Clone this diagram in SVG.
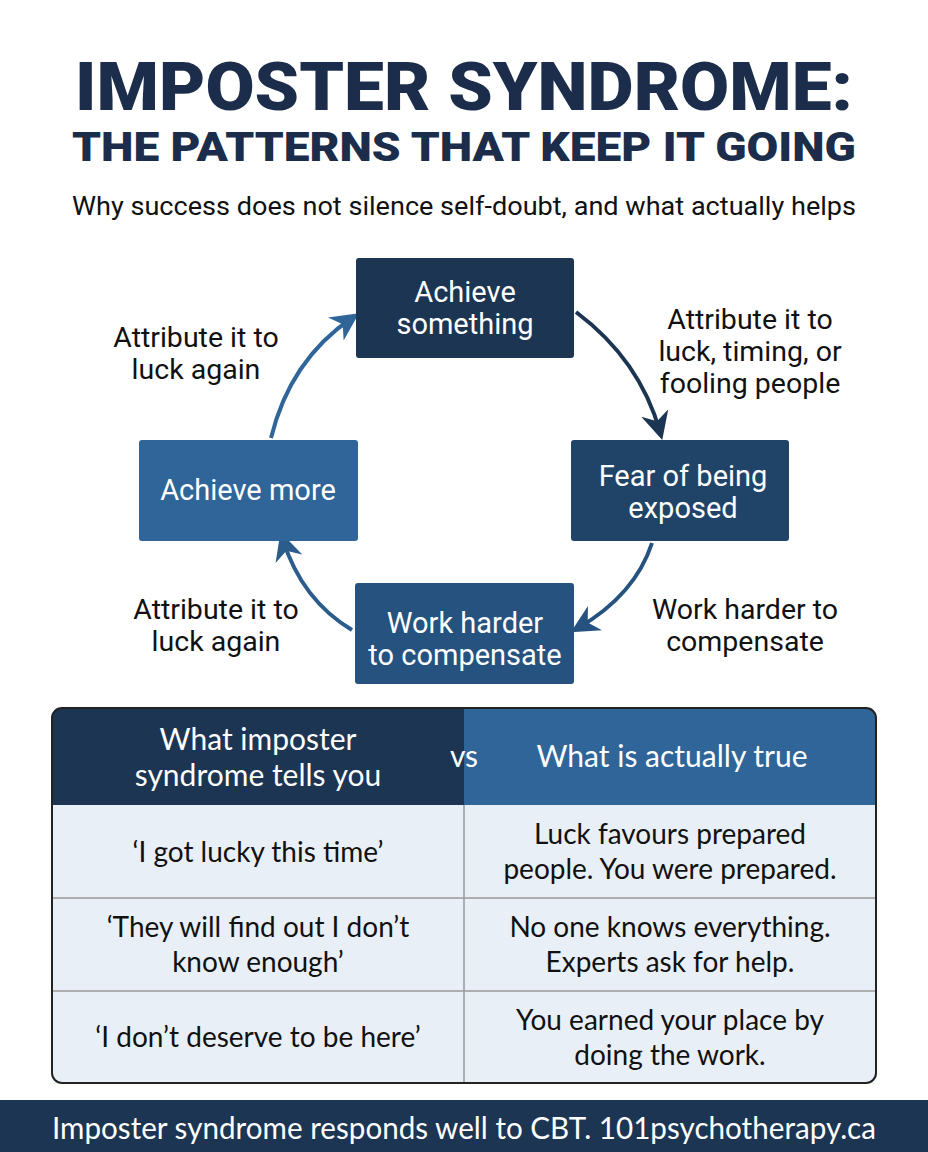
<svg xmlns="http://www.w3.org/2000/svg" width="928" height="1152" viewBox="0 0 928 1152">
<style>
.t{font-family:Roboto,"Liberation Sans",sans-serif;text-anchor:middle}
.n{fill:#fff;font-size:29px}
.l{fill:#111;font-size:28.5px}
.c{fill:#111;font-size:28px;font-family:Lato,"Liberation Sans",sans-serif;text-anchor:middle}
.h{fill:#fff;font-size:30px;font-family:Lato,"Liberation Sans",sans-serif;text-anchor:middle}
.a{fill:none;stroke-width:4}
</style>
<defs>
<marker id="m1" viewBox="0 0 10 10" refX="7" refY="5" markerWidth="7" markerHeight="7" orient="auto"><path d="M0,0L10,5L0,10L3,5z" fill="#1c3553"/></marker>
<marker id="m2" viewBox="0 0 10 10" refX="7" refY="5" markerWidth="7" markerHeight="7" orient="auto"><path d="M0,0L10,5L0,10L3,5z" fill="#26527f"/></marker>
<marker id="m3" viewBox="0 0 10 10" refX="7" refY="5" markerWidth="7" markerHeight="7" orient="auto"><path d="M0,0L10,5L0,10L3,5z" fill="#2a5c8c"/></marker>
<marker id="m4" viewBox="0 0 10 10" refX="7" refY="5" markerWidth="7" markerHeight="7" orient="auto"><path d="M0,0L10,5L0,10L3,5z" fill="#2f6598"/></marker>
</defs>
<rect width="928" height="1152" fill="#fff"/>
<text class="t" x="464" y="110" font-size="66" font-weight="900" fill="#1b2d4a" textLength="778" lengthAdjust="spacingAndGlyphs">IMPOSTER SYNDROME:</text>
<text class="t" x="464" y="161" font-size="41" font-weight="900" fill="#1b2d4a" textLength="784" lengthAdjust="spacingAndGlyphs">THE PATTERNS THAT KEEP IT GOING</text>
<text class="t" x="464" y="215" font-size="26" fill="#111" textLength="784" lengthAdjust="spacingAndGlyphs">Why success does not silence self-doubt, and what actually helps</text>

<g id="connectors">
<path class="a" stroke="#1c3553" d="M576,312 Q640,360 660,432" marker-end="url(#m1)"/>
<path class="a" stroke="#26527f" d="M652,543 Q635,595 578,628" marker-end="url(#m2)"/>
<path class="a" stroke="#2a5c8c" d="M352,630 Q302,600 283,540" marker-end="url(#m3)"/>
<path class="a" stroke="#2f6598" d="M271,438 Q290,360 352,318" marker-end="url(#m4)"/>
<text class="t l" x="196" y="347">Attribute it to</text>
<text class="t l" x="196" y="379">luck again</text>
<text class="t l" x="750" y="329">Attribute it to</text>
<text class="t l" x="750" y="361">luck, timing, or</text>
<text class="t l" x="750" y="393">fooling people</text>
<text class="t l" x="216" y="619">Attribute it to</text>
<text class="t l" x="216" y="651">luck again</text>
<text class="t l" x="745" y="619">Work harder to</text>
<text class="t l" x="745" y="651">compensate</text>
</g>

<g id="n1"><rect x="356" y="258" width="218" height="100" rx="3" fill="#1c3553"/>
<text class="t n" x="465" y="302">Achieve</text><text class="t n" x="465" y="334">something</text></g>
<g id="n2"><rect x="571" y="440" width="218" height="101" rx="3" fill="#1f4468"/>
<text class="t n" x="683" y="486">Fear of being</text><text class="t n" x="683" y="518">exposed</text></g>
<g id="n3"><rect x="355" y="583" width="219" height="101" rx="3" fill="#26527f"/>
<text class="t n" x="465" y="633">Work harder</text><text class="t n" x="465" y="665">to compensate</text></g>
<g id="n4"><rect x="139" y="440" width="219" height="101" rx="3" fill="#2f6598"/>
<text class="t n" x="248" y="500">Achieve more</text></g>

<g id="table">
<defs><clipPath id="cp"><rect x="52" y="708" width="824" height="375" rx="10"/></clipPath></defs>
<g clip-path="url(#cp)">
<rect x="52" y="708" width="824" height="375" fill="#e9eff6"/>
<rect x="52" y="708" width="412" height="97" fill="#1c3553"/>
<rect x="464" y="708" width="412" height="97" fill="#2f6598"/>
</g>
<line x1="52" y1="898" x2="876" y2="898" stroke="#999" stroke-width="1.5"/>
<line x1="52" y1="991" x2="876" y2="991" stroke="#999" stroke-width="1.5"/>
<line x1="464" y1="805" x2="464" y2="1083" stroke="#999" stroke-width="1.5"/>
<rect x="52" y="708" width="824" height="375" rx="10" fill="none" stroke="#222" stroke-width="2"/>
<text class="h" x="258" y="750">What imposter</text>
<text class="h" x="258" y="786">syndrome tells you</text>
<text class="h" x="464" y="767" font-size="28">vs</text>
<text class="h" x="672" y="767">What is actually true</text>
<text class="c" x="258" y="862">‘I got lucky this time’</text>
<text class="c" x="670" y="844">Luck favours prepared</text>
<text class="c" x="670" y="879">people. You were prepared.</text>
<text class="c" x="258" y="937">‘They will find out I don’t</text>
<text class="c" x="258" y="972">know enough’</text>
<text class="c" x="670" y="937">No one knows everything.</text>
<text class="c" x="670" y="972">Experts ask for help.</text>
<text class="c" x="258" y="1047">‘I don’t deserve to be here’</text>
<text class="c" x="670" y="1030">You earned your place by</text>
<text class="c" x="670" y="1065">doing the work.</text>
</g>
<rect x="0" y="1100" width="928" height="52" fill="#1c3553"/>
<text class="h" x="464" y="1139" font-size="28" textLength="824" lengthAdjust="spacingAndGlyphs">Imposter syndrome responds well to CBT. 101psychotherapy.ca</text>
</svg>
